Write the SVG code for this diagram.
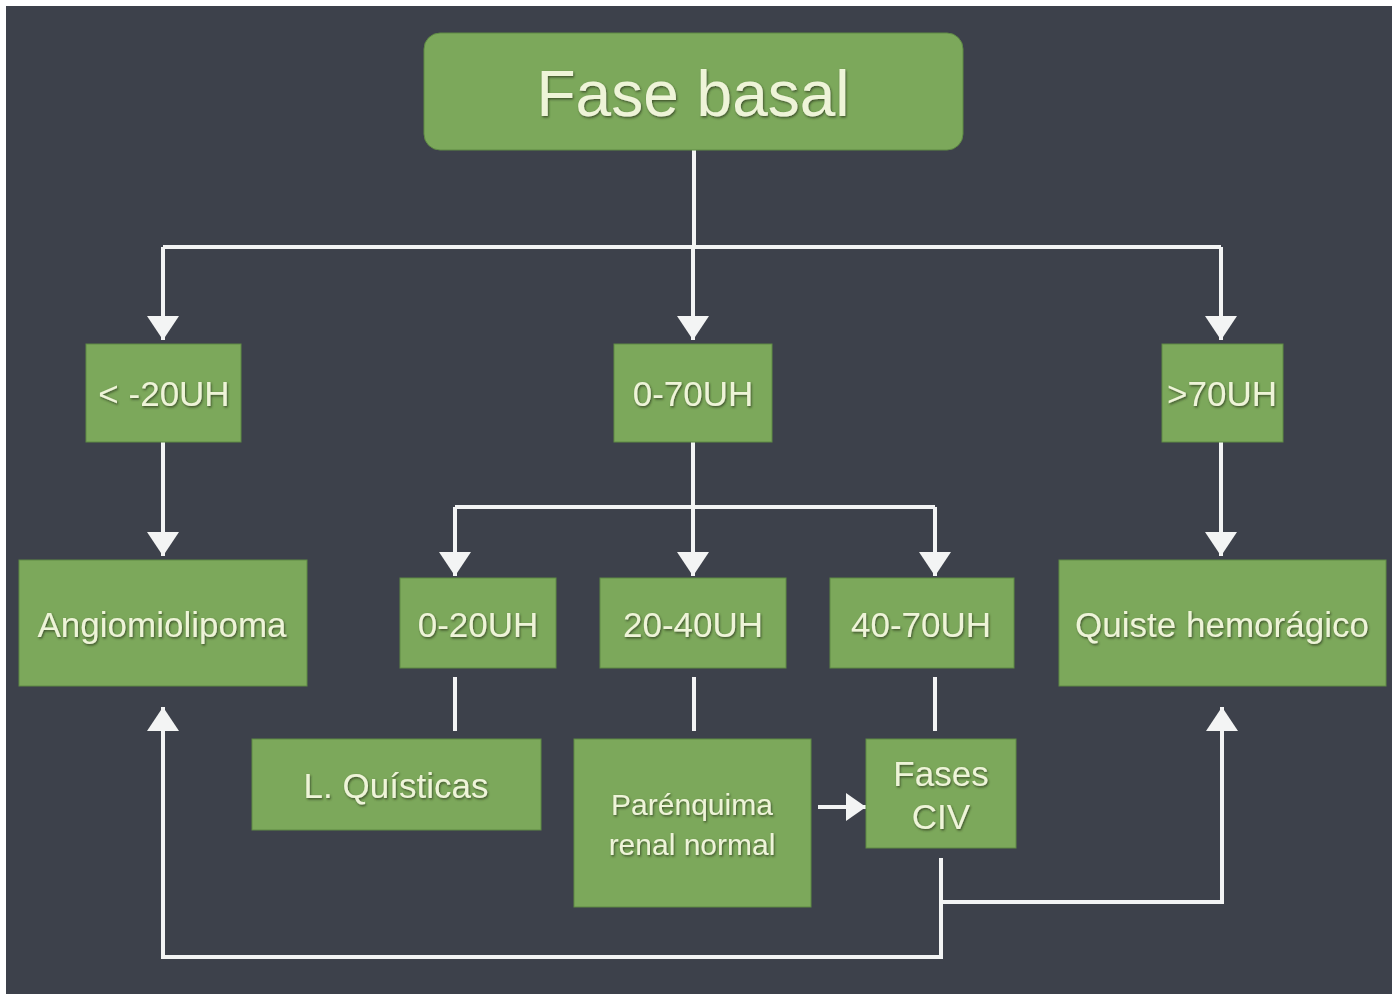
<svg xmlns="http://www.w3.org/2000/svg" width="1396" height="997" viewBox="0 0 1396 997">
<defs>
<style>
.box{fill:#7ca85b;stroke:#5f8a45;stroke-width:1}
.t{font-family:"Liberation Sans",Arial,sans-serif;fill:#eef4d8;font-size:35px;text-anchor:middle}
.big{font-size:64px}
.sm{font-size:30px}
.ln{fill:none;stroke:#f3f4f4;stroke-width:4}
</style>
<marker id="ah" markerUnits="userSpaceOnUse" markerWidth="24" markerHeight="32" viewBox="0 0 24 32" refX="24" refY="16" orient="auto">
<path d="M0,0 L24,16 L0,32 z" fill="#f3f4f4"/>
</marker>
<marker id="ahs" markerUnits="userSpaceOnUse" markerWidth="20" markerHeight="28" viewBox="0 0 20 28" refX="20" refY="14" orient="auto">
<path d="M0,0 L20,14 L0,28 z" fill="#f3f4f4"/>
</marker>
<filter id="sh" x="-10%" y="-10%" width="120%" height="130%">
<feDropShadow dx="1" dy="1.5" stdDeviation="0.8" flood-color="#2f3d24" flood-opacity="0.8"/>
</filter>
</defs>
<rect x="0" y="0" width="1396" height="997" fill="#ffffff"/>
<rect x="6" y="6" width="1386" height="988" fill="#3d414b"/>

<g id="connectors">
<path class="ln" d="M694,150 V247"/>
<path class="ln" d="M163,247 H1221"/>
<path class="ln" d="M163,247 V340" marker-end="url(#ah)"/>
<path class="ln" d="M693,247 V340" marker-end="url(#ah)"/>
<path class="ln" d="M1221,247 V340" marker-end="url(#ah)"/>
<path class="ln" d="M163,442 V556" marker-end="url(#ah)"/>
<path class="ln" d="M1221,442 V556" marker-end="url(#ah)"/>
<path class="ln" d="M693,442 V507"/>
<path class="ln" d="M455,507 H935"/>
<path class="ln" d="M455,507 V576" marker-end="url(#ah)"/>
<path class="ln" d="M693,507 V576" marker-end="url(#ah)"/>
<path class="ln" d="M935,507 V576" marker-end="url(#ah)"/>
<path class="ln" d="M455,677 V731"/>
<path class="ln" d="M694,677 V731"/>
<path class="ln" d="M935,677 V731"/>
<path class="ln" d="M818,807 H866" marker-end="url(#ahs)"/>
<path class="ln" d="M941,858 V957 H163 V707" marker-end="url(#ah)"/>
<path class="ln" d="M941,902 H1222 V707" marker-end="url(#ah)"/>
</g>

<g id="fase-basal">
<rect class="box" x="424" y="33" width="539" height="117" rx="16"/>
<text class="t big" x="693" y="116" filter="url(#sh)">Fase basal</text>
</g>
<g id="n-menos20">
<rect class="box" x="86" y="344" width="155" height="98"/>
<text class="t" x="164" y="406" filter="url(#sh)">&lt; -20UH</text>
</g>
<g id="n-0-70">
<rect class="box" x="614" y="344" width="158" height="98"/>
<text class="t" x="693" y="406" filter="url(#sh)">0-70UH</text>
</g>
<g id="n-mas70">
<rect class="box" x="1162" y="344" width="121" height="98"/>
<text class="t" x="1222" y="406" filter="url(#sh)">&gt;70UH</text>
</g>
<g id="angiomiolipoma">
<rect class="box" x="19" y="560" width="288" height="126"/>
<text class="t" x="162" y="637" filter="url(#sh)">Angiomiolipoma</text>
</g>
<g id="quiste">
<rect class="box" x="1059" y="560" width="327" height="126"/>
<text class="t" x="1222" y="637" filter="url(#sh)">Quiste hemorágico</text>
</g>
<g id="n-0-20">
<rect class="box" x="400" y="578" width="156" height="90"/>
<text class="t" x="478" y="637" filter="url(#sh)">0-20UH</text>
</g>
<g id="n-20-40">
<rect class="box" x="600" y="578" width="186" height="90"/>
<text class="t" x="693" y="637" filter="url(#sh)">20-40UH</text>
</g>
<g id="n-40-70">
<rect class="box" x="830" y="578" width="184" height="90"/>
<text class="t" x="921" y="637" filter="url(#sh)">40-70UH</text>
</g>
<g id="quisticas">
<rect class="box" x="252" y="739" width="289" height="91"/>
<text class="t" x="396" y="798" filter="url(#sh)">L. Quísticas</text>
</g>
<g id="parenquima">
<rect class="box" x="574" y="739" width="237" height="168"/>
<text class="t sm" x="692" y="815" filter="url(#sh)">Parénquima</text>
<text class="t sm" x="692" y="855" filter="url(#sh)">renal normal</text>
</g>
<g id="fases-civ">
<rect class="box" x="866" y="739" width="150" height="109"/>
<text class="t" x="941" y="786" filter="url(#sh)">Fases</text>
<text class="t" x="941" y="829" filter="url(#sh)">CIV</text>
</g>
</svg>
